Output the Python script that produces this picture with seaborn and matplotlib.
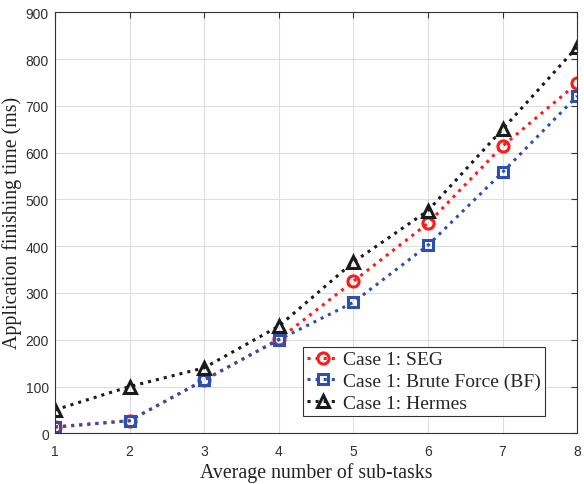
import matplotlib
matplotlib.use("Agg")
import matplotlib.pyplot as plt
import seaborn as sns
import pandas as pd

# Average number of sub-tasks
subtasks = [1, 2, 3, 4, 5, 6, 7, 8]
# Application finishing time (ms)
seg_ms = [14, 27, 114, 201, 325, 449, 614, 748]
bf_ms = [13, 27, 114, 200, 280, 402, 558, 721]
hermes_ms = [50, 100, 140, 229, 366, 476, 650, 826]

series_names = ["Case 1: SEG", "Case 1: Brute Force (BF)", "Case 1: Hermes"]
series_values = [seg_ms, bf_ms, hermes_ms]
colors = ["#ff1a1a", "#2f4fae", "#1a1a1a"]
markers = ["o", "s", "^"]
marker_sizes = [8, 7.5, 8.5]

rows = []
for name, vals in zip(series_names, series_values):
    for x, y in zip(subtasks, vals):
        rows.append({"x": x, "y": y, "series": name})
df = pd.DataFrame(rows)

sns.set_style("white")
fig = plt.figure(figsize=(5.84, 4.85), dpi=100)
ax = fig.add_axes([0.0942, 0.1045, 0.894, 0.868])

for name, color, mk, ms in zip(series_names, colors, markers, marker_sizes):
    sub = df[df["series"] == name]
    sns.lineplot(data=sub, x="x", y="y", ax=ax, color=color, linestyle=":",
                 linewidth=2.2, marker=mk, markersize=ms,
                 markerfacecolor="none", markeredgecolor=color,
                 markeredgewidth=2.2, label=name)

ax.set_xlim(1, 8)
ax.set_ylim(0, 900)
ax.set_xticks(subtasks)
ax.set_yticks(range(0, 901, 100))
ax.grid(True, color="#dedede", linewidth=0.8)
ax.set_axisbelow(True)
for s in ax.spines.values():
    s.set_color("#333333")
    s.set_linewidth(0.8)
ax.tick_params(direction="in", length=4, width=0.8, color="#333333",
               top=True, right=True, labelsize=10, labelcolor="#303030")
ax.tick_params(axis="x", pad=7.5)
ax.tick_params(axis="y", pad=4.5)
for lab in ax.get_xticklabels() + ax.get_yticklabels():
    lab.set_family("Liberation Sans")

ax.set_xlabel("Average number of sub-tasks", family="Liberation Serif",
              fontsize=14.3, color="#222222")
ax.set_ylabel("Application finishing time (ms)", family="Liberation Serif",
              fontsize=14.3, color="#222222")
ax.xaxis.set_label_coords(0.5, -0.068)
ax.yaxis.set_label_coords(-0.063, 0.503)

leg = ax.legend(loc="lower right", bbox_to_anchor=(0.939, 0.041),
                prop={"family": "Liberation Serif", "size": 14},
                frameon=True, fancybox=False, framealpha=1,
                edgecolor="#333333", handlelength=1.65, handletextpad=0.25,
                borderpad=0.2, labelspacing=0.22, borderaxespad=0.0)
leg.get_frame().set_linewidth(0.8)

fig.savefig("out.png", dpi=100)
